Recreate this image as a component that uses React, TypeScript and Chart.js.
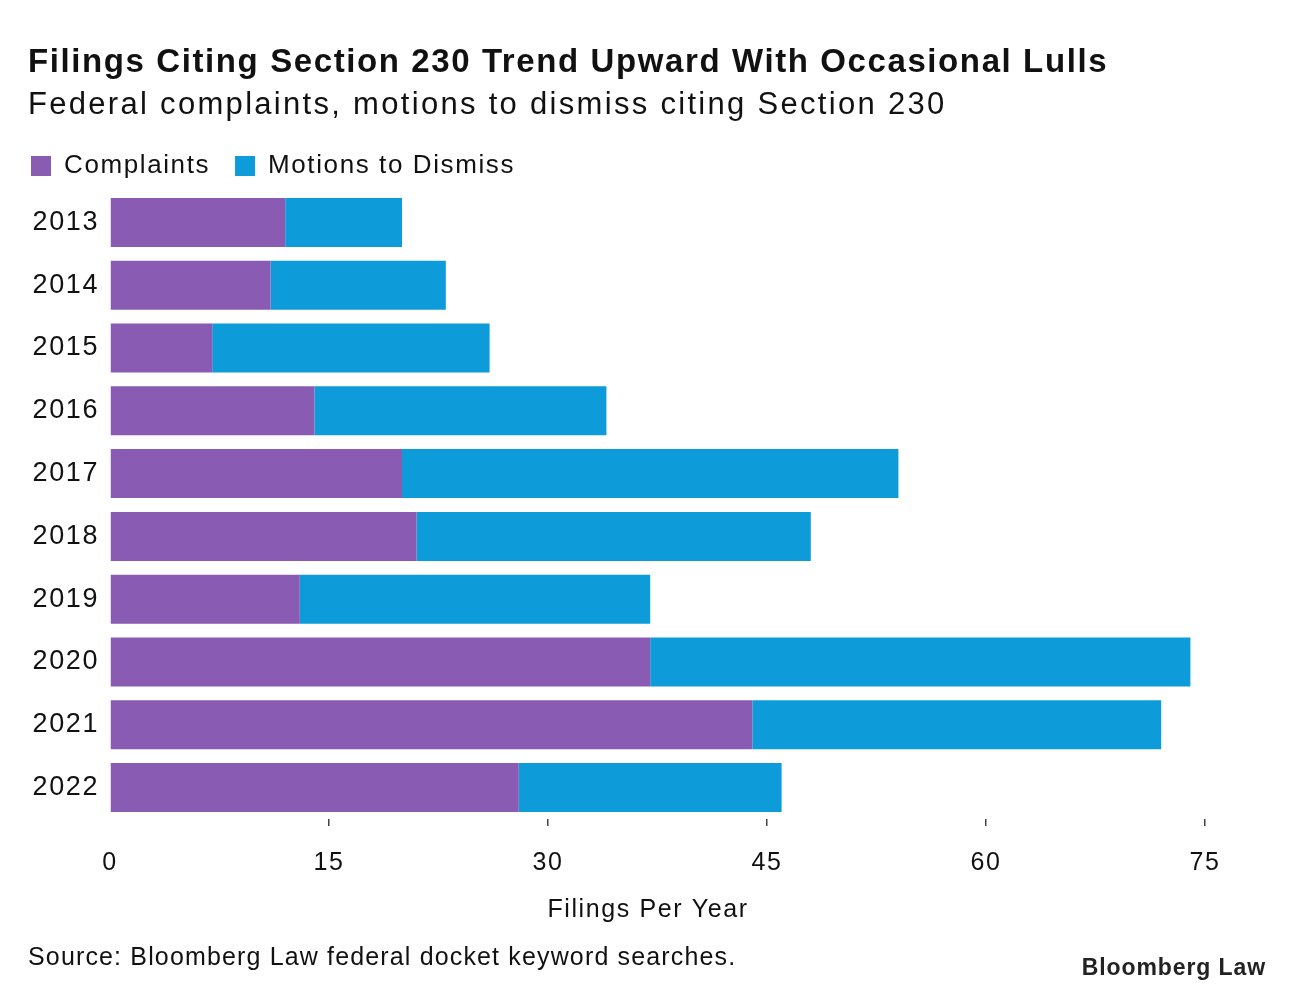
import { useEffect, useRef } from 'react';
import { Chart, registerables } from 'chart.js';

Chart.register(...registerables);

const years = ['2013', '2014', '2015', '2016', '2017', '2018', '2019', '2020', '2021', '2022'];
const complaints = [12, 11, 7, 14, 20, 21, 13, 37, 44, 28];
const motions = [8, 12, 19, 20, 34, 27, 24, 37, 28, 18];
const xTickValues = [0, 15, 30, 45, 60, 75];

const titleText = 'Filings Citing Section 230 Trend Upward With Occasional Lulls';
const subtitleText = 'Federal complaints, motions to dismiss citing Section 230';
const xAxisTitle = 'Filings Per Year';
const sourceText = 'Source: Bloomberg Law federal docket keyword searches.';
const brandText = 'Bloomberg Law';

const FONT = '"Liberation Sans", Arial, Helvetica, sans-serif';
const PURPLE = '#895bb2';
const BLUE = '#0e9bd9';
const TEXT = '#111111';
const SPACING = '1.6px';

const spacingPlugin = {
  id: 'spacing',
  beforeUpdate(chart: any) {
    chart.ctx.letterSpacing = SPACING;
  },
  beforeLayout(chart: any) {
    chart.ctx.letterSpacing = SPACING;
  },
  beforeDraw(chart: any) {
    chart.ctx.letterSpacing = SPACING;
  },
};

const textPlugin = {
  id: 'texts',
  afterDraw(chart: any) {
    const ctx = chart.ctx as CanvasRenderingContext2D;
    ctx.save();
    ctx.fillStyle = TEXT;
    ctx.textBaseline = 'middle';
    ctx.textAlign = 'left';
    (ctx as any).letterSpacing = '1.6px';
    ctx.font = `bold 33px ${FONT}`;
    ctx.fillText(titleText, 28, 63);
    (ctx as any).letterSpacing = '2.3px';
    ctx.font = `31px ${FONT}`;
    ctx.fillText(subtitleText, 28, 105);
    ctx.font = `25px ${FONT}`;
    (ctx as any).letterSpacing = '1.15px';
    ctx.fillText(sourceText, 28, 958);
    // x-axis title, centred where the reference puts it
    (ctx as any).letterSpacing = '1.6px';
    ctx.textAlign = 'center';
    ctx.fillText(xAxisTitle, 648, 910);
    ctx.textAlign = 'right';
    ctx.font = `bold 23px ${FONT}`;
    (ctx as any).letterSpacing = '0.9px';
    ctx.fillStyle = '#222222';
    ctx.fillText(brandText, 1266, 969);
    ctx.restore();
  },
};

export default function App() {
  const ref = useRef<HTMLCanvasElement | null>(null);

  useEffect(() => {
    document.body.style.margin = '0';
    const canvas = ref.current;
    if (!canvas) return;
    Chart.defaults.font.family = FONT;
    const chart = new Chart(canvas, {
      type: 'bar',
      data: {
        labels: years,
        datasets: [
          {
            label: 'Complaints',
            data: complaints,
            backgroundColor: PURPLE,
            borderWidth: 0,
            barPercentage: 0.78,
            categoryPercentage: 1,
          },
          {
            label: 'Motions to Dismiss',
            data: motions,
            backgroundColor: BLUE,
            borderWidth: 0,
            barPercentage: 0.78,
            categoryPercentage: 1,
          },
        ],
      },
      options: {
        indexAxis: 'y',
        responsive: false,
        animation: false,
        devicePixelRatio: 1,
        layout: { padding: { top: 128, left: 6, right: 91, bottom: 97 } },
        plugins: {
          title: { display: false },
          tooltip: { enabled: false },
          legend: {
            display: true,
            position: 'top',
            align: 'start',
            labels: {
              boxWidth: 20,
              boxHeight: 20,
              padding: 25,
              color: TEXT,
              font: { size: 26, family: FONT },
            },
          },
        },
        scales: {
          x: {
            type: 'linear',
            stacked: true,
            min: 0,
            max: 75,
            afterBuildTicks: (scale: any) => {
              scale.ticks = xTickValues.map((v) => ({ value: v }));
            },
            ticks: {
              color: TEXT,
              padding: 22,
              font: { size: 25, family: FONT },
            },
            grid: {
              drawOnChartArea: false,
              drawTicks: true,
              tickLength: 7,
              lineWidth: 1.5,
              color: (c: any) => (c.tick && c.tick.value === 0 ? 'rgba(0,0,0,0)' : '#444444'),
            },
            border: { display: false },
            title: { display: false },
          },
          y: {
            type: 'category',
            stacked: true,
            grid: { display: false },
            border: { display: false },
            ticks: {
              color: TEXT,
              padding: 3,
              font: { size: 27, family: FONT },
            },
            afterFit: (scale: any) => {
              scale.width = 104;
            },
          },
          spacer: {
            type: 'linear',
            position: 'top',
            display: true,
            ticks: { display: false },
            grid: { display: false, drawTicks: false },
            border: { display: false },
            afterFit: (scale: any) => {
              scale.height = 2;
            },
          },
        },
      } as any,
      plugins: [spacingPlugin, textPlugin],
    });
    return () => chart.destroy();
  }, []);

  return (
    <div style={{ width: 1296, height: 997, background: '#ffffff' }}>
      <canvas ref={ref} width={1296} height={997} style={{ display: 'block' }} />
    </div>
  );
}
